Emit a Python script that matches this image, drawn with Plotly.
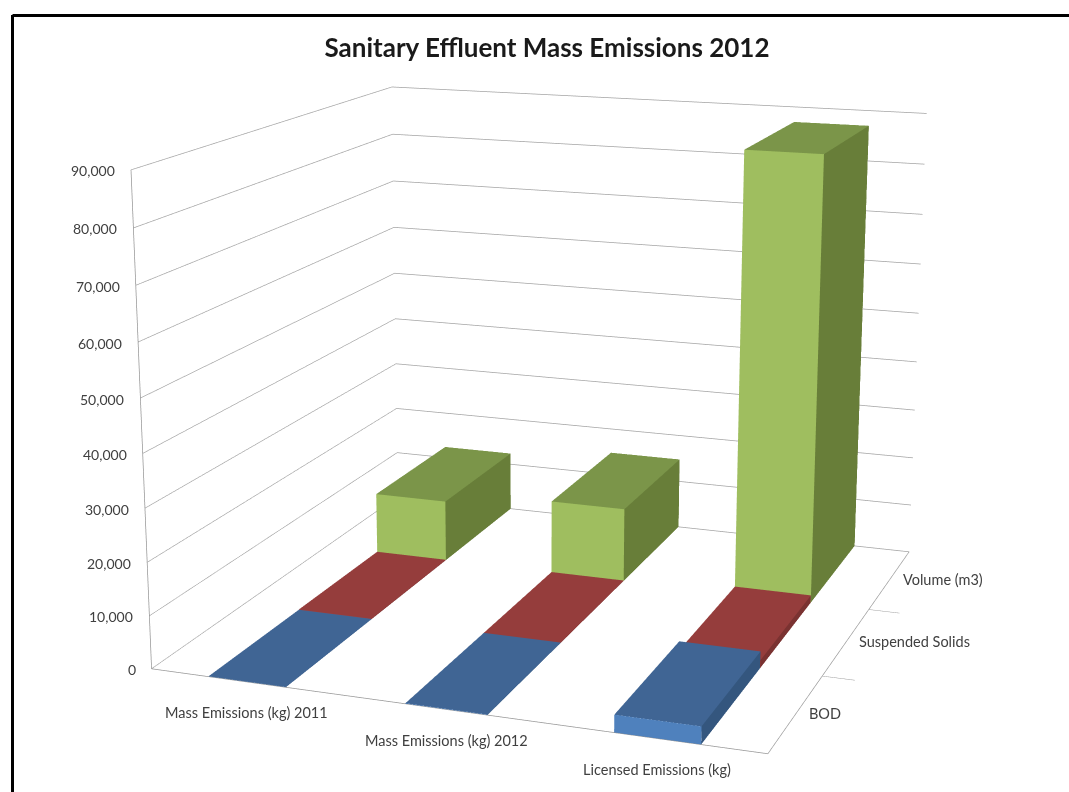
import plotly.graph_objects as go

categories = ["Mass Emissions (kg) 2011", "Mass Emissions (kg) 2012", "Licensed Emissions (kg)"]
series = ["BOD", "Suspended Solids", "Volume (m3)"]
bod = [50, 100, 3200]
solids = [100, 100, 1500]
volume = [12400, 14800, 87000]
z_ticks = [0, 10000, 20000, 30000, 40000, 50000, 60000, 70000, 80000, 90000]

values = [bod, solids, volume]
colors = [("#4f81bd", "#34567e", "#406594"), ("#a04040", "#7a3231", "#953d3c"), ("#9fbe5f", "#687e39", "#7b9549")]
BAR = 0.2
TEXT = "#404040"
FONT = "Lato, 'Open Sans', sans-serif"


def box(x0, x1, y0, y1, h, col):
    front, side, top = col
    return go.Mesh3d(
        x=[x0, x1, x1, x0, x0, x1, x1, x0], y=[y0, y0, y1, y1, y0, y0, y1, y1], z=[0, 0, 0, 0, h, h, h, h],
        i=[0, 0, 1, 1, 4, 4], j=[1, 5, 2, 6, 5, 6], k=[5, 4, 6, 5, 6, 7],
        facecolor=[front] * 2 + [side] * 2 + [top] * 2,
        flatshading=True, lighting=dict(ambient=1, diffuse=0, specular=0, fresnel=0), hoverinfo="skip",
        showscale=False)


fig = go.Figure()
for s, vals in enumerate(values):
    for c, v in enumerate(vals):
        fig.add_trace(box(c + .5 - BAR, c + .5 + BAR, s, s + 1, v, colors[s]))

annotations = []
for v in z_ticks:
    annotations.append(dict(x=0, y=0, z=v, text=f"{v:,}", showarrow=False, xanchor="right", xshift=-14, yshift=-1,
                            font=dict(size=14, color=TEXT, family=FONT)))
for c, name in enumerate(categories):
    annotations.append(dict(x=c + .5, y=0, z=0, text=name, showarrow=False, yanchor="middle", yshift=-31,
                            font=dict(size=14.5, color=TEXT, family=FONT)))
for s, name in enumerate(series):
    annotations.append(dict(x=3, y=s + .5, z=0, text=name, showarrow=False, xanchor="left", xshift=11,
                            font=dict(size=14.5, color=TEXT, family=FONT)))

axis = dict(showticklabels=False, title="", showgrid=False, showbackground=False, showspikes=False,
            zeroline=False, showline=True, linecolor="#969696", linewidth=1.5)
fig.update_layout(
    width=1069, height=792, margin=dict(l=0, r=0, t=0, b=0), paper_bgcolor="white", showlegend=False,
    title=dict(text="<b>Sanitary Effluent Mass Emissions 2012</b>", x=547 / 1069, xanchor="center",
               y=1 - 48 / 792, yanchor="middle", font=dict(size=26, color="#1a1a1a", family=FONT)),
    shapes=[
        dict(type="line", xref="paper", yref="paper", x0=12.5 / 1069, x1=12.5 / 1069, y0=0, y1=1 - 15 / 792,
             line=dict(color="black", width=3)),
        dict(type="line", xref="paper", yref="paper", x0=12.5 / 1069, x1=1, y0=1 - 15.5 / 792, y1=1 - 15.5 / 792,
             line=dict(color="black", width=3)),
    ],
    scene=dict(
        domain=dict(x=[0, 1], y=[0, 1]),
        xaxis=dict(axis, range=[0, 3]),
        yaxis=dict(axis, range=[0, 3], tickvals=[1, 2], ticks="outside", ticklen=4, tickcolor="#969696"),
        zaxis=dict(axis, range=[0, 90000], tickvals=z_ticks, showgrid=True, gridcolor="#a3a3a3", gridwidth=1.5),
        aspectmode="manual", aspectratio=dict(x=1.2606, y=1.2481, z=1),
        camera=dict(eye=dict(x=1.6797, y=-4.7476, z=1.2784), center=dict(x=-0.0493, y=0.0024, z=-0.0422),
                    up=dict(x=0, y=0, z=1), projection=dict(type="perspective")),
        annotations=annotations,
    ),
)
# The original chart was drawn with a much longer lens than plotly's default field of view.
post = """
document.body.style.margin = '0';
document.body.style.overflow = 'hidden';
var gd = document.getElementById('{plot_id}');
function narrowLens() {
  var s = gd._fullLayout && gd._fullLayout.scene && gd._fullLayout.scene._scene;
  if (!s || !s.glplot) { setTimeout(narrowLens, 20); return; }
  s.glplot.fovy = 2 * Math.atan(396 / 2500);
  s.glplot.redraw();
}
narrowLens();
"""
fig.write_html("out.html", post_script=post, config=dict(displayModeBar=False))
